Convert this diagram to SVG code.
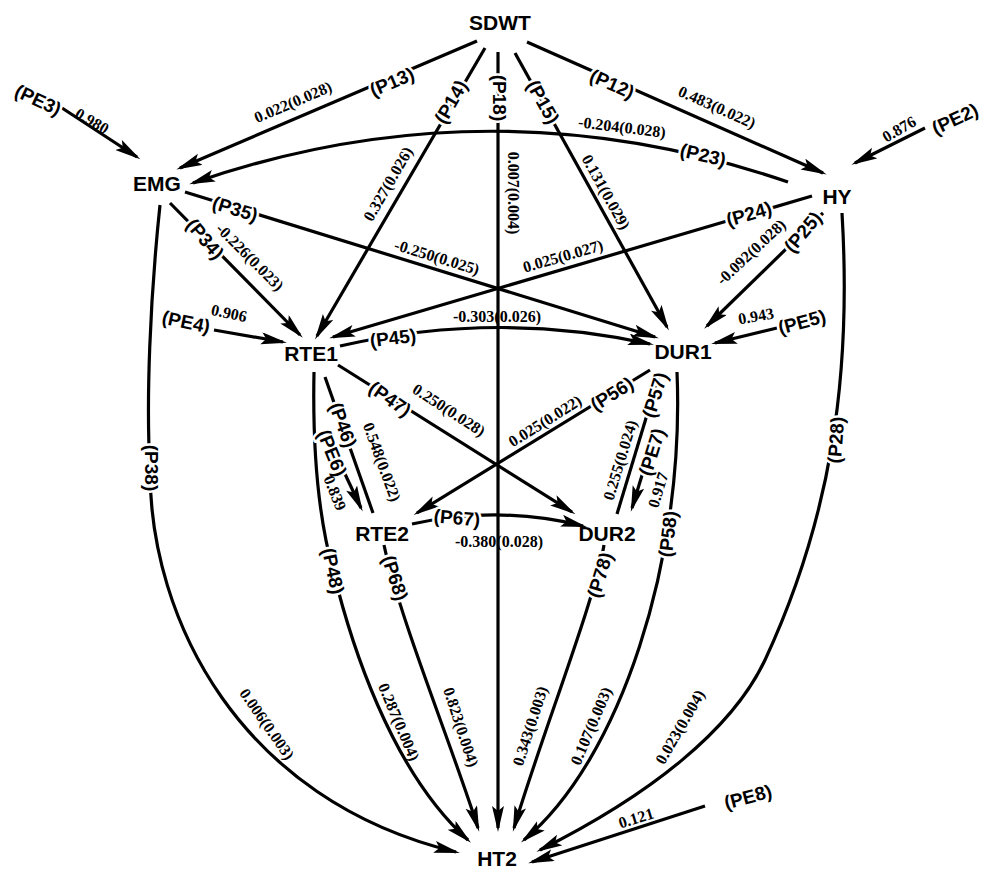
<svg xmlns="http://www.w3.org/2000/svg" width="984" height="884" viewBox="0 0 984 884">
<style>
.e{fill:none;stroke:#000;stroke-width:3.2}
.a{marker-end:url(#ah)}
.n{font-family:"Liberation Sans",Arial,sans-serif;font-weight:bold;font-size:21px;text-anchor:middle;dominant-baseline:central}
.p{font-family:"Liberation Sans",Arial,sans-serif;font-weight:bold;font-size:19px;text-anchor:middle;dominant-baseline:central;stroke:#fff;stroke-width:5;stroke-linejoin:round;paint-order:stroke}
.v{font-family:"Liberation Serif","Times New Roman",serif;font-weight:bold;font-size:16px;text-anchor:middle;dominant-baseline:central}
</style>
<defs>
<marker id="ah" markerUnits="userSpaceOnUse" markerWidth="28" markerHeight="13" refX="22" refY="6" orient="auto">
<path d="M0,0 L26,6 L0,12 L5,6 z" fill="#000"/>
</marker>
</defs>
<rect width="984" height="884" fill="#fff"/>
<g id="connectors">
<path class="e a" d="M477,41 L180,168"/>
<path class="e a" d="M527,42 L823,173"/>
<path class="e a" d="M485,48 L317,336"/>
<path class="e a" d="M498,52 L498,828"/>
<path class="e a" d="M515,53 L667,327"/>
<path class="e a" d="M788,182 Q490,80 193,183"/>
<path class="e a" d="M185,192 L655,337"/>
<path class="e a" d="M170,203 L300,335"/>
<path class="e a" d="M812,196 L333,337"/>
<path class="e a" d="M823,213 L707,326"/>
<path class="e a" d="M340,346 Q497,310 650,344"/>
<path class="e a" d="M650,370 L417,513"/>
<path class="e a" d="M338,365 L572,512"/>
<path class="e" d="M325,377 L373,513"/>
<path class="e" d="M660,372 L617,514"/>
<path class="e a" d="M412,524 Q500,505 583,526"/>
<path class="e a" d="M160,205 C150,300 146,400 150,470 C150,620 240,800 456,852"/>
<path class="e a" d="M314,372 C312,470 322,530 333,570 C350,640 390,770 468,840"/>
<path class="e a" d="M384,545 C400,620 450,740 478,828"/>
<path class="e a" d="M604,545 C595,600 540,740 514,828"/>
<path class="e a" d="M677,372 C685,560 620,760 524,840"/>
<path class="e a" d="M842,213 C852,380 830,520 765,660 C732,730 650,795 540,850"/>
<path class="e a" d="M62,108 L137,157"/>
<path class="e a" d="M925,128 L855,163"/>
<path class="e a" d="M214,330 L283,342"/>
<path class="e a" d="M777,328 L715,343"/>
<path class="e a" d="M345,474 L361,508"/>
<path class="e a" d="M643,472 L632,508"/>
<path class="e a" d="M705,806 L532,862"/>
</g>
<g id="node-SDWT"><text class="n" x="500" y="22">SDWT</text></g>
<g id="node-EMG"><text class="n" x="157" y="183">EMG</text></g>
<g id="node-HY"><text class="n" x="837" y="196">HY</text></g>
<g id="node-RTE1"><text class="n" x="311" y="353">RTE1</text></g>
<g id="node-DUR1"><text class="n" x="683" y="351">DUR1</text></g>
<g id="node-RTE2"><text class="n" x="382" y="533">RTE2</text></g>
<g id="node-DUR2"><text class="n" x="607" y="533">DUR2</text></g>
<g id="node-HT2"><text class="n" x="497" y="858">HT2</text></g>
<g id="path-labels">
<text class="p" transform="translate(392 82) rotate(-23)">(P13)</text>
<text class="p" transform="translate(451 102) rotate(-60)">(P14)</text>
<text class="p" transform="translate(499 98) rotate(90)">(P18)</text>
<text class="p" transform="translate(543 102) rotate(61)">(P15)</text>
<text class="p" transform="translate(612 84) rotate(24)">(P12)</text>
<text class="p" transform="translate(703 155) rotate(13)">(P23)</text>
<text class="p" transform="translate(235 209) rotate(17)">(P35)</text>
<text class="p" transform="translate(205 239) rotate(50)">(P34)</text>
<text class="p" transform="translate(749 214) rotate(-16)">(P24)</text>
<text class="p" transform="translate(803 232) rotate(-50)">(P25)</text>
<text class="p" transform="translate(393 338) rotate(-7)">(P45)</text>
<text class="p" transform="translate(390 399) rotate(35)">(P47)</text>
<text class="p" transform="translate(343 425) rotate(70)">(P46)</text>
<text class="p" transform="translate(612 394) rotate(-32)">(P56)</text>
<text class="p" transform="translate(655 395) rotate(-73)">(P57)</text>
<text class="p" transform="translate(457 518) rotate(5)">(P67)</text>
<text class="p" transform="translate(151 468) rotate(90)">(P38)</text>
<text class="p" transform="translate(333 571) rotate(78)">(P48)</text>
<text class="p" transform="translate(395 578) rotate(72)">(P68)</text>
<text class="p" transform="translate(600 575) rotate(-73)">(P78)</text>
<text class="p" transform="translate(668 534) rotate(-83)">(P58)</text>
<text class="p" transform="translate(836 440) rotate(-86)">(P28)</text>
<text class="p" transform="translate(38 100) rotate(25)">(PE3)</text>
<text class="p" transform="translate(955 119) rotate(-25)">(PE2)</text>
<text class="p" transform="translate(186 322) rotate(12)">(PE4)</text>
<text class="p" transform="translate(802 322) rotate(-15)">(PE5)</text>
<text class="p" transform="translate(332 453) rotate(68)">(PE6)</text>
<text class="p" transform="translate(652 452) rotate(-73)">(PE7)</text>
<text class="p" transform="translate(748 797) rotate(-15)">(PE8)</text>
</g>
<g id="coefficients">
<text class="v" transform="translate(293 102) rotate(-23)">0.022(0.028)</text>
<text class="v" transform="translate(388 184) rotate(-60)">0.327(0.026)</text>
<text class="v" transform="translate(513 193) rotate(90)">0.007(0.004)</text>
<text class="v" transform="translate(606 192) rotate(61)">0.131(0.029)</text>
<text class="v" transform="translate(717 107) rotate(24)">0.483(0.022)</text>
<text class="v" transform="translate(622 127) rotate(7)">-0.204(0.028)</text>
<text class="v" transform="translate(92 121) rotate(30)">0.980</text>
<text class="v" transform="translate(899 129) rotate(-30)">0.876</text>
<text class="v" transform="translate(437 257) rotate(17)">-0.250(0.025)</text>
<text class="v" transform="translate(250 257) rotate(45)">-0.226(0.023)</text>
<text class="v" transform="translate(563 256) rotate(-16)">0.025(0.027)</text>
<text class="v" transform="translate(751 252) rotate(-43)">-0.092(0.028)</text>
<text class="v" transform="translate(229 313) rotate(12)">0.906</text>
<text class="v" transform="translate(497 316)">-0.303(0.026)</text>
<text class="v" transform="translate(756 316) rotate(-10)">0.943</text>
<text class="v" transform="translate(449 410) rotate(33)">0.250(0.028)</text>
<text class="v" transform="translate(382 462) rotate(70)">0.548(0.022)</text>
<text class="v" transform="translate(545 421) rotate(-32)">0.025(0.022)</text>
<text class="v" transform="translate(620 460) rotate(-73)">0.255(0.024)</text>
<text class="v" transform="translate(335 493) rotate(68)">0.839</text>
<text class="v" transform="translate(658 490) rotate(-73)">0.917</text>
<text class="v" transform="translate(499 541)">-0.380(0.028)</text>
<text class="v" transform="translate(267 724) rotate(55)">0.006(0.003)</text>
<text class="v" transform="translate(399 722) rotate(67)">0.287(0.004)</text>
<text class="v" transform="translate(461 727) rotate(72)">0.823(0.004)</text>
<text class="v" transform="translate(530 726) rotate(-72)">0.343(0.003)</text>
<text class="v" transform="translate(591 726) rotate(-67)">0.107(0.003)</text>
<text class="v" transform="translate(680 727) rotate(-60)">0.023(0.004)</text>
<text class="v" transform="translate(636 818) rotate(-17)">0.121</text>
</g>
</svg>
